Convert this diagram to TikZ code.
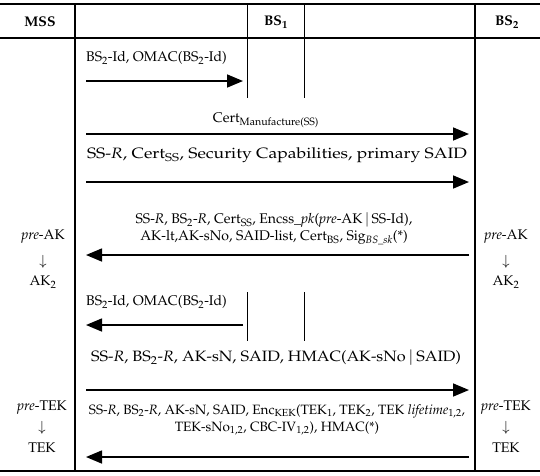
\documentclass[tikz,border=0pt]{standalone}
\usepackage[T1]{fontenc}
\usepackage{mathpazo}
\usepackage{graphicx}
\usepackage{tikz}
\usetikzlibrary{arrows.meta, positioning, calc}

\tikzset{
    msg/.style={line width=1.6pt, -{Triangle[length=16pt,width=13pt]}},
    lbl/.style={inner sep=0pt, font=\fontsize{14}{17}\selectfont, align=center},
    wide/.style={inner sep=0pt, font=\fontsize{15}{18}\selectfont},
    hdr/.style={inner sep=0pt, font=\fontsize{14}{17}\selectfont\bfseries},
    side/.style={inner sep=0pt, font=\fontsize{14}{17}\selectfont, align=center}
}

\begin{document}
\begin{tikzpicture}[x=1pt, y=-1pt]
    \useasboundingbox (0,0) rectangle (540,475);

    % table frame
    \draw[line width=2pt] (0,4) -- (540,4);
    \draw[line width=1.5pt] (0,38) -- (540,38);
    \draw[line width=2pt] (0,471) -- (540,471);
    \draw[line width=1.2pt] (75,4) -- (75,471);
    \draw[line width=1.2pt] (475,4) -- (475,471);
    \draw[line width=1pt] (247,4) -- (247,98);
    \draw[line width=1pt] (304,4) -- (304,98);
    \draw[line width=1pt] (247,292) -- (247,341);
    \draw[line width=1pt] (304,292) -- (304,341);

    \node[hdr] (mss) at (40,22) {MSS};
    \node[hdr] (bs1) at (276,22) {BS\textsubscript{1}};
    \node[hdr] (bs2) at (507,22) {BS\textsubscript{2}};

    % messages
    \coordinate (m1) at (86,81);
    \coordinate (b1) at (243,81);
    \draw[msg] (m1) -- (b1);
    \node[lbl, anchor=west] (t1) at (86,58) {BS\textsubscript{2}-Id, OMAC(BS\textsubscript{2}-Id)};

    \coordinate (m2) at (86,134);
    \coordinate (b2) at (469,134);
    \draw[msg] (m2) -- (b2);
    \node[lbl] (t2) at (266,120) {Cert\textsubscript{Manufacture(SS)}};

    \coordinate (m3) at (86,182);
    \coordinate (b3) at (469,182);
    \draw[msg] (m3) -- (b3);
    \node[wide] (t3) at (277,155) {\resizebox{380pt}{\height}{SS-\textit{R}, Cert\textsubscript{SS}, Security Capabilities, primary SAID}};

    \coordinate (b4) at (469,255);
    \coordinate (m4) at (86,255);
    \draw[msg] (b4) -- (m4);
    \node[lbl] (t4) at (274,229) {SS-\textit{R}, BS\textsubscript{2}-\textit{R}, Cert\textsubscript{SS}, Encss\_\textit{pk}(\textit{pre}-AK$\,|\,$SS-Id),\\
        AK-lt,AK-sNo, SAID-list, Cert\textsubscript{BS}, Sig\textsubscript{\textit{BS\_sk}}(*)};

    \coordinate (b5) at (243,325);
    \coordinate (m5) at (86,325);
    \draw[msg] (b5) -- (m5);
    \node[lbl, anchor=west] (t5) at (86,302) {BS\textsubscript{2}-Id, OMAC(BS\textsubscript{2}-Id)};

    \coordinate (m6) at (86,390);
    \coordinate (b6) at (469,390);
    \draw[msg] (m6) -- (b6);
    \node[wide] (t6) at (276,358) {\resizebox{370pt}{\height}{SS-\textit{R}, BS\textsubscript{2}-\textit{R}, AK-sN, SAID, HMAC(AK-sNo$\,|\,$SAID)}};

    \coordinate (b7) at (469,457);
    \coordinate (m7) at (86,457);
    \draw[msg] (b7) -- (m7);
    \node[lbl, font=\fontsize{13.5}{17}\selectfont] (t7) at (277,420) {SS-\textit{R}, BS\textsubscript{2}-\textit{R}, AK-sN, SAID, Enc\textsubscript{KEK}(TEK\textsubscript{1}, TEK\textsubscript{2}, TEK \textit{lifetime}\textsubscript{1,2},\\
        TEK-sNo\textsubscript{1,2}, CBC-IV\textsubscript{1,2}), HMAC(*)};

    % key derivation
    \node[side] (ak1) at (43,259) {\textit{pre}-AK\\[9pt]$\downarrow$\\[3pt]AK\textsubscript{2}};
    \node[side] (ak2) at (506,259) {\textit{pre}-AK\\[9pt]$\downarrow$\\[3pt]AK\textsubscript{2}};
    \node[side] (tek1) at (42,427) {\textit{pre}-TEK\\[4pt]$\downarrow$\\[4pt]TEK};
    \node[side] (tek2) at (506,427) {\textit{pre}-TEK\\[4pt]$\downarrow$\\[4pt]TEK};
\end{tikzpicture}
\end{document}
